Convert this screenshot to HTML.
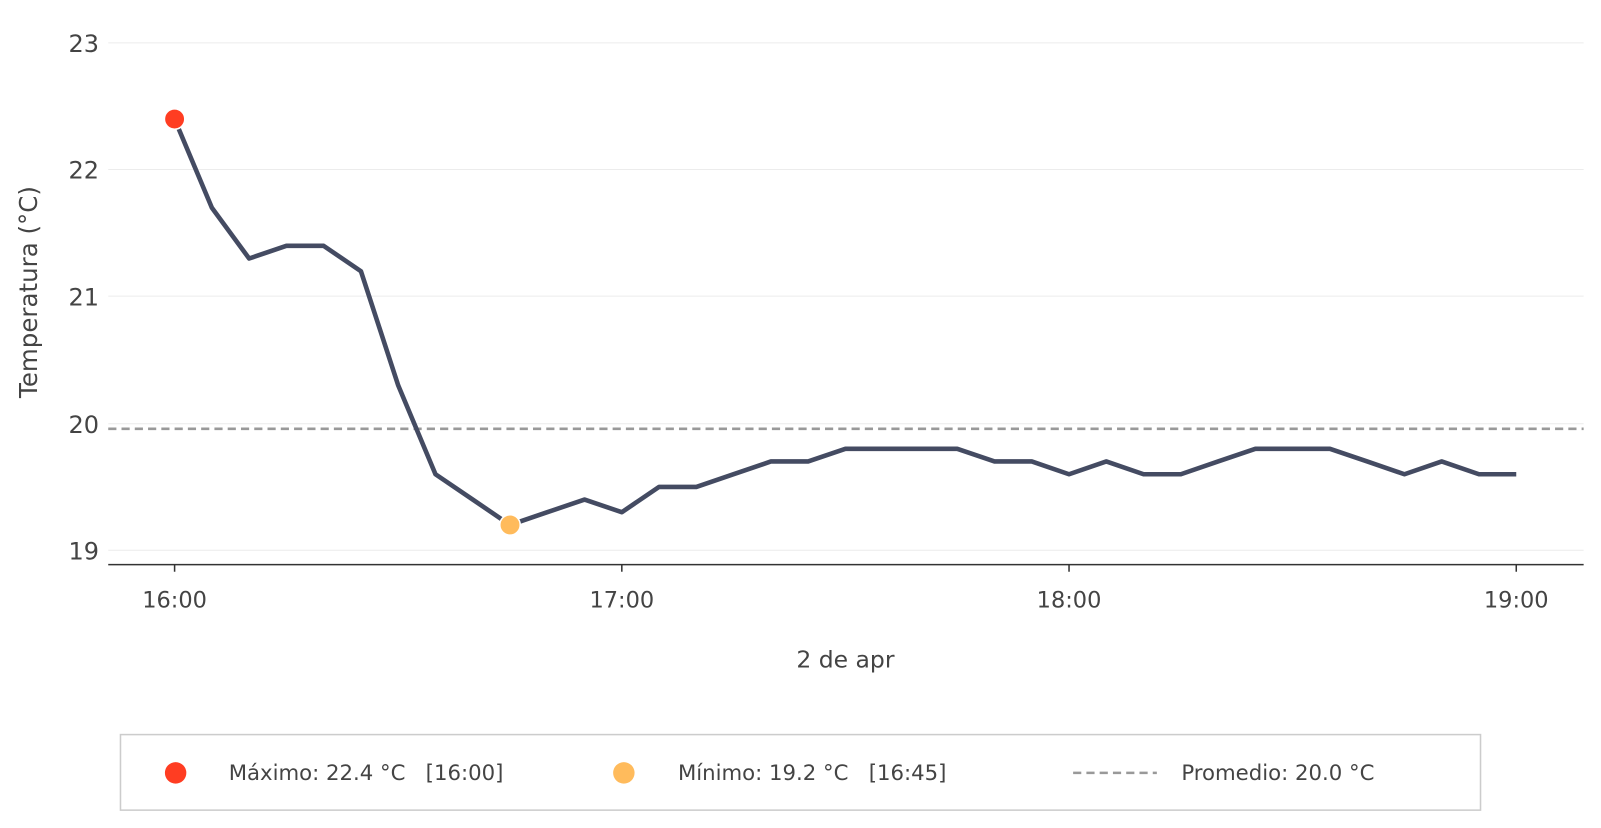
<!DOCTYPE html>
<html><head><meta charset="utf-8"><style>
html,body{margin:0;padding:0;background:#fff;}
svg{display:block;font-family:"DejaVu Sans","Liberation Sans",sans-serif;}
</style></head><body>
<svg width="1601" height="828" viewBox="0 0 1568 811" preserveAspectRatio="none" xmlns="http://www.w3.org/2000/svg">
<g stroke="#ececec" stroke-width="1">
<line x1="106" y1="42" x2="1551" y2="42"/>
<line x1="106" y1="166" x2="1551" y2="166"/>
<line x1="106" y1="290" x2="1551" y2="290"/>
<line x1="106" y1="415" x2="1551" y2="415"/>
<line x1="106" y1="539" x2="1551" y2="539"/>
</g>
<g fill="#444" font-size="23.5" text-anchor="end">
<text x="97" y="51">23</text>
<text x="97" y="175">22</text>
<text x="97" y="299">21</text>
<text x="97" y="424">20</text>
<text x="97" y="548">19</text>
</g>
<text transform="translate(36,286) rotate(-90)" text-anchor="middle" font-size="24" fill="#444">Temperatura (°C)</text>
<line x1="106" y1="553" x2="1551" y2="553" stroke="#333" stroke-width="1.5"/>
<g stroke="#333" stroke-width="1.5">
<line x1="171" y1="553" x2="171" y2="560"/>
<line x1="609" y1="553" x2="609" y2="560"/>
<line x1="1047" y1="553" x2="1047" y2="560"/>
<line x1="1485" y1="553" x2="1485" y2="560"/>
</g>
<g fill="#444" font-size="22" text-anchor="middle">
<text x="171" y="595">16:00</text>
<text x="609" y="595">17:00</text>
<text x="1047" y="595">18:00</text>
<text x="1485" y="595">19:00</text>
<text x="828" y="654" font-size="23">2 de apr</text>
</g>
<line x1="106" y1="420" x2="1551" y2="420" stroke="#999" stroke-width="2.5" stroke-dasharray="8,5"/>
<polyline fill="none" stroke="#444b62" stroke-width="4.5" stroke-linejoin="round" points="171,116.6 207.5,203.5 244,253.2 280.5,240.8 317,240.8 353.5,265.7 390,377.5 426.5,464.5 463,489.3 499.5,514.2 536,501.7 572.5,489.3 609,501.7 645.5,476.9 682,476.9 718.5,464.5 755,452 791.5,452 828,439.6 864.5,439.6 901,439.6 937.5,439.6 974,452 1010.5,452 1047,464.5 1083.5,452 1120,464.5 1156.5,464.5 1193,452 1229.5,439.6 1266,439.6 1302.5,439.6 1339,452 1375.5,464.5 1412,452 1448.5,464.5 1485,464.5"/>
<circle cx="171" cy="116.6" r="10" fill="#ff3d22" stroke="#fff" stroke-width="1.5"/>
<circle cx="499.5" cy="514.2" r="10" fill="#ffbb5c" stroke="#fff" stroke-width="1.5"/>
<rect x="118" y="719.5" width="1332" height="74" fill="#fff" stroke="#ccc" stroke-width="1.5"/>
<circle cx="172" cy="757" r="10.5" fill="#ff3d22"/>
<circle cx="611" cy="757" r="10.5" fill="#ffbb5c"/>
<line x1="1051" y1="757" x2="1133" y2="757" stroke="#999" stroke-width="2.5" stroke-dasharray="8,5"/>
<g fill="#444" font-size="20.8">
<text x="224" y="764" xml:space="preserve">Máximo: 22.4 °C   [16:00]</text>
<text x="664" y="764" xml:space="preserve">Mínimo: 19.2 °C   [16:45]</text>
<text x="1157" y="764">Promedio: 20.0 °C</text>
</g>
</svg>
</body></html>
